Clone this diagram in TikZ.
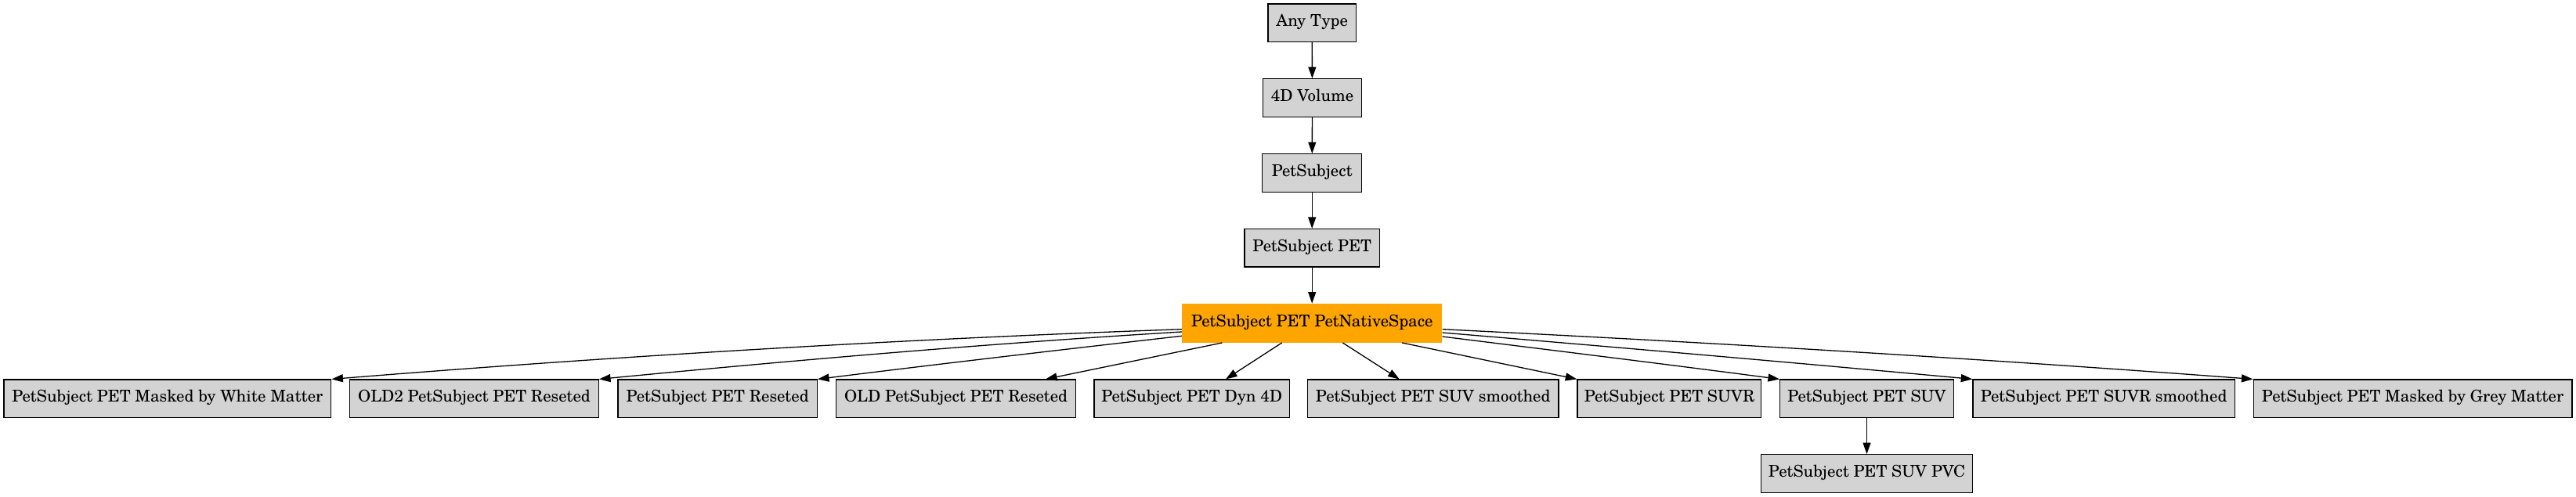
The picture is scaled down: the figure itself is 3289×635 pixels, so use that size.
\documentclass[tikz,border=0pt]{standalone}
\usepackage{fontspec}
\setmainfont{texgyreschola}[Extension=.otf, UprightFont=*-regular, BoldFont=*-bold, ItalicFont=*-italic, BoldItalicFont=*-bolditalic]
\usetikzlibrary{arrows.meta,calc}
\definecolor{boxgray}{RGB}{211,211,211}
\definecolor{natorange}{RGB}{255,165,0}
\begin{document}
\begin{tikzpicture}[x=0.5pt,y=-0.5pt,
  font=\fontsize{10.4pt}{12pt}\selectfont,
  gbox/.style={draw=black, fill=boxgray, line width=0.65pt, inner sep=0pt,
    minimum height=24.2pt, text height=7pt, text depth=2.7pt},
  nbox/.style={fill=natorange, inner sep=0pt, minimum height=24.75pt,
    text height=7pt, text depth=2.7pt},
  edge/.style={draw=black, line width=0.65pt, -{Triangle[length=7.3pt,width=5pt]}}]
\fill[white] (0,0) rectangle (3289,635);
\useasboundingbox (0,0) rectangle (3289,635);

% chain
\node[gbox, minimum width=56.15pt] (any) at (1675.2,29.2) {Any Type};
\node[gbox, minimum width=62.8pt] (vol) at (1675.5,125) {4D Volume};
\node[gbox, minimum width=63.5pt] (ps) at (1675.2,221) {PetSubject};
\node[gbox, minimum width=86.15pt] (pet) at (1675.2,316.9) {PetSubject PET};
\node[nbox, minimum width=166pt] (native) at (1675.2,412.8) {PetSubject PET PetNativeSpace};

% row
\node[gbox, minimum width=208.85pt] (wm) at (213.85,509.3) {PetSubject PET Masked by White Matter};
\node[gbox, minimum width=158.8pt] (old2) at (605.5,509.3) {OLD2 PetSubject PET Reseted};
\node[gbox, minimum width=127.15pt] (reset) at (916.15,509.3) {PetSubject PET Reseted};
\node[gbox, minimum width=153pt] (old) at (1220.6,509.3) {OLD PetSubject PET Reseted};
\node[gbox, minimum width=124.75pt] (dyn) at (1521.75,509.3) {PetSubject PET Dyn 4D};
\node[gbox, minimum width=160.35pt] (suvs) at (1829.7,509.3) {PetSubject PET SUV smoothed};
\node[gbox, minimum width=117.4pt] (suvr) at (2131.4,509.3) {PetSubject PET SUVR};
\node[gbox, minimum width=110.8pt] (suv) at (2383.5,509.3) {PetSubject PET SUV};
\node[gbox, minimum width=167.1pt] (suvrs) at (2686.1,509.3) {PetSubject PET SUVR smoothed};
\node[gbox, minimum width=203.4pt] (gm) at (3080.6,509.3) {PetSubject PET Masked by Grey Matter};
\node[gbox, minimum width=134.75pt] (pvc) at (2383.5,605) {PetSubject PET SUV PVC};

% vertical edges
\draw[edge] (any) -- (vol);
\draw[edge] (vol) -- (ps);
\draw[edge] (ps) -- (pet);
\draw[edge] (pet) -- (native);
\draw[edge] (suv) -- (pvc);

% fan-out edges
\coordinate (lw1) at ($(native.west)+(0,7.9)$);
\coordinate (lw2) at ($(native.west)+(0,11.2)$);
\coordinate (lw3) at ($(native.west)+(0,16.5)$);
\coordinate (re1) at ($(native.east)+(0,7.9)$);
\coordinate (re2) at ($(native.east)+(0,12.2)$);
\coordinate (re3) at ($(native.east)+(0,17.2)$);
\coordinate (bs1) at ($(native.south)+(-114.7,0)$);
\coordinate (bs2) at ($(native.south)+(-38.5,0)$);
\coordinate (bs3) at ($(native.south)+(39.1,0)$);
\coordinate (bs4) at ($(native.south)+(114.8,0)$);

\draw[edge] (lw1) .. controls +(-360,12.6) and +(360,-29) .. (wm.north east);
\draw[edge] (lw2) .. controls +(-248,15) and +(248,-24) .. (old2.north east);
\draw[edge] (lw3) .. controls +(-155,17.7) and +(155,-19.4) .. (reset.north east);
\draw[edge] (bs1) -- ($(old.north)+(114.4,0)$);
\draw[edge] (bs2) -- ($(dyn.north)+(43.3,0)$);
\draw[edge] (bs3) -- ($(suvs.north)+(-43,0)$);
\draw[edge] (bs4) -- (suvr.north west);
\draw[edge] (re3) .. controls +(144,18) and +(-144,-19) .. (suv.north west);
\draw[edge] (re2) .. controls +(226,19) and +(-226,-21) .. (suvrs.north west);
\draw[edge] (re1) .. controls +(345,17) and +(-345,-26) .. (gm.north west);
\end{tikzpicture}
\end{document}
